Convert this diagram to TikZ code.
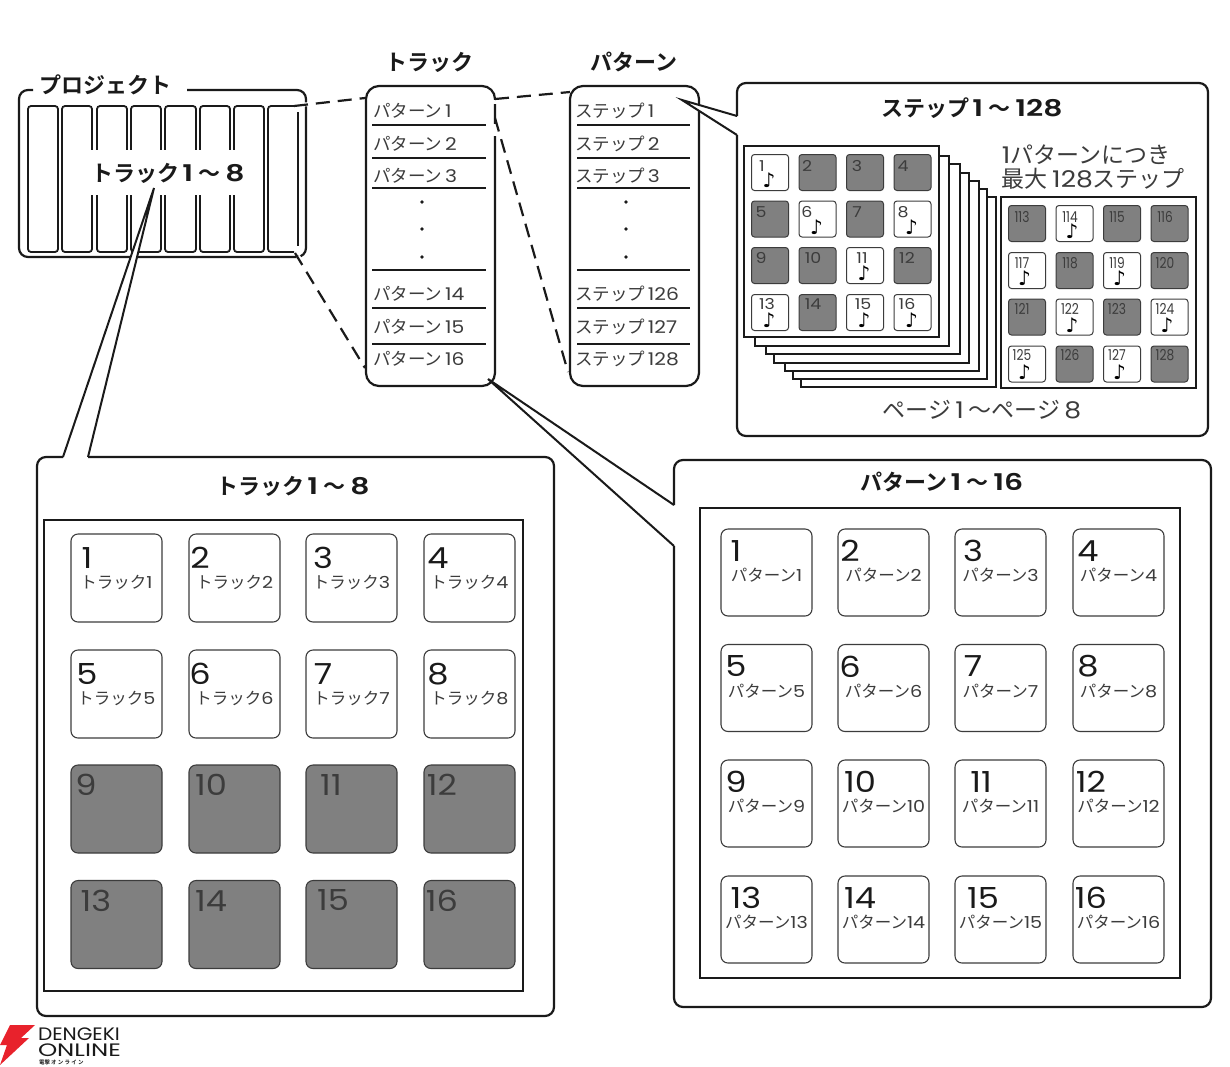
\documentclass[tikz,border=0pt]{standalone}
\usepackage{fontspec}
\newfontfamily\jp{Noto Sans CJK JP}
\newfontfamily\jpb{Noto Sans CJK JP Bold}
\newfontfamily\dg[FakeStretch=1.16]{Poppins}
\newfontfamily\dgb[FakeStretch=1.3]{Poppins SemiBold}
\newfontfamily\logofont{Poppins}
\newfontfamily\sym{DejaVu Sans}
\definecolor{padgray}{HTML}{808080}
\definecolor{ink}{HTML}{1A1A1A}
\definecolor{soft}{HTML}{3C3C3C}
\definecolor{boltred}{HTML}{E8222C}
\tikzset{
  x=1pt,y=-1pt,
  every node/.style={inner sep=0pt,outer sep=0pt,text=ink},
  frame/.style={draw=ink,line width=2.2pt,rounded corners=9pt},
  thinrule/.style={draw=ink,line width=1.3pt},
  heavyrect/.style={draw=ink,line width=2.4pt,fill=white},
  dashline/.style={draw=ink,line width=2.2pt,dash pattern=on 14pt off 8pt},
  wedgeline/.style={draw=ink,line width=2pt},
  bigpad/.style={draw=soft,line width=1.1pt,rounded corners=7pt,minimum width=91pt,minimum height=88pt},
  stepcell/.style={draw=soft,line width=1pt,rounded corners=3pt,minimum width=37pt,minimum height=36pt},
  head/.style={font=\jpb\fontsize{22}{24}\selectfont},
  listtext/.style={anchor=west,text=soft,font=\jp\fontsize{17.5}{20}\selectfont},
  padnum/.style={text=ink,font=\dg\fontsize{29}{30}\selectfont},
  padsub/.style={text=soft,font=\jp\fontsize{16.5}{18}\selectfont},
  cellnum/.style={text=soft,font=\dg\fontsize{15}{16}\selectfont},
  cellnote/.style={text=black,font=\sym\fontsize{20}{20}\selectfont},
  listdot/.style={circle,fill=ink,minimum size=3.6pt},
}
% bold heading: kana, first number, wave dash, last number
\newcommand{\hd}[3]{{\jpb #1}\hspace{3pt}{\dgb\fontsize{23}{24}\selectfont #2}\hspace{5pt}{\jpb 〜}\hspace{5pt}{\dgb\fontsize{23}{24}\selectfont #3}}
\begin{document}
\begin{tikzpicture}
\useasboundingbox (0,0) rectangle (1230,1066);
\fill[white] (0,0) rectangle (1230,1066);

% --- project block with its eight track columns ---
\draw[frame] (187,90) -- (306,90) -- (306,257) -- (19,257) -- (19,90) -- (33,90);
\node[head,anchor=center] (projtitle) at (105,85) {プロジェクト};
\foreach \a/\b [count=\i] in {28/58,62/92,97/127,131/161,165/196,200/230,234/264}
  \draw[draw=ink,line width=1.8pt,rounded corners=3pt] (\a,106) rectangle (\b,252);
\draw[draw=ink,line width=1.8pt,rounded corners=3pt] (294,106) -- (268,106) -- (268,252) -- (294,252);
\draw[draw=ink,line width=1.8pt] (298,112) -- (298,246);
\fill[white] (90,150) rectangle (238,195);
\node[head,anchor=center] (tracksum) at (168,173) {\hd{トラック}{1}{8}};

% --- track list ---
\node[head] (tracktitle) at (429,62) {トラック};
\draw[frame,rounded corners=13pt,fill=white] (366,86) rectangle (495,386);
\foreach \n/\y in {1/111,2/144,3/176,14/294,15/327,16/359}
  \node[listtext] (pat\n) at (373,\y) {パターン\,{\dg\n}};
\foreach \y in {125,158,188,270,308,344}
  \draw[thinrule] (372,\y) -- (486,\y);
\foreach \i/\y in {1/202,2/229,3/257}
  \node[listdot] (trackdot\i) at (422,\y) {};

% --- pattern list ---
\node[head] (pattitle) at (634,62) {パターン};
\draw[frame,rounded corners=13pt,fill=white] (570,86) rectangle (699,386);
\foreach \n/\y in {1/111,2/144,3/176,126/294,127/327,128/359}
  \node[listtext] (stp\n) at (575,\y) {ステップ\,{\dg\n}};
\foreach \y in {125,158,188,270,308,344}
  \draw[thinrule] (577,\y) -- (690,\y);
\foreach \i/\y in {1/202,2/229,3/257}
  \node[listdot] (patdot\i) at (626,\y) {};

% --- dashed zoom guides between the blocks ---
\coordinate (pa) at (294,106);
\coordinate (pb) at (365,98);
\coordinate (pc) at (295,253);
\coordinate (pd) at (365,368);
\coordinate (ta) at (495,99);
\coordinate (tb) at (570,92);
\coordinate (tc) at (495,118);
\coordinate (td) at (568,372);
\draw[white,line width=4pt] (299,105) -- (310,104);
\draw[white,line width=4pt] (298,256) -- (304,266);
\draw[white,line width=4pt] (495,100) -- (495,104);
\draw[white,line width=4pt] (495,124) -- (495,136);
\draw[dashline] (pa) -- (pb);
\draw[dashline] (pc) -- (pd);
\draw[dashline] (ta) -- (tb);
\draw[dashline] (tc) -- (td);

% --- step detail panel ---
\coordinate (stip) at (682,100);
\coordinate (su) at (737,116);
\coordinate (sl) at (737,135);
\fill[white] (stip) -- (su) -- (sl) -- cycle;
\draw[wedgeline] (su) -- (stip) -- (sl);
\draw[frame] (737,116) -- (737,83) -- (1208,83) -- (1208,436) -- (737,436) -- (737,135);
\node[head] (steptitle) at (972,108) {\hd{ステップ}{1}{128}};
\foreach \l/\t/\r/\b in {801/197/996/387,793/189/987/379,785/181/979/371,774/173/969/363,766/164/960/354,755/156/949/346,744/146/939/337}
  \draw[heavyrect] (\l,\t) rectangle (\r,\b);
\draw[heavyrect] (1001,197) rectangle (1196,388);
\node[text=soft,font=\jp\fontsize{23}{25}\selectfont] (onepat) at (1086,155) {{\dg 1}パターンにつき};
\node[text=soft,font=\jp\fontsize{23}{25}\selectfont] (maxstep) at (1093,179) {最大 {\dg 128}ステップ};
\node[text=soft,font=\jp\fontsize{23}{25}\selectfont] (pagecap) at (982,410) {ページ\,{\dg 1} 〜ページ\,{\dg 8}};

% n / cell x / cell y / number x / number y / lit
\foreach \n/\x/\y/\nx/\ny/\lit in {
  1/770/172.5/762/166/1,2/817.5/172.5/807/166/0,3/865/172.5/857/166/0,4/912.5/172.5/903/166/0,
  5/770/219/761/212/0,6/817.5/219/807/212/1,7/865/219/857/212/0,8/912.5/219/903/212/1,
  9/770/265.5/761/258/0,10/817.5/265.5/813/258/0,11/865/265.5/862/258/1,12/912.5/265.5/907/258/0,
  13/770/312.5/767/304/1,14/817.5/312.5/813/304/0,15/865/312.5/863/304/1,16/912.5/312.5/907/304/1}{
  \ifnum\lit=1
    \node[stepcell,fill=white] (cell\n) at (\x,\y) {};
    \node[cellnote] (note\n) at (\x-1,\y+8) {♪};
  \else
    \node[stepcell,fill=padgray] (cell\n) at (\x,\y) {};
  \fi
  \node[cellnum] (celln\n) at (\nx,\ny) {\n};
}
\foreach \n/\x/\y/\nx/\ny/\lit in {
  113/1027/223.5/1022/217/0,114/1074.5/223.5/1070/217/1,115/1122/223.5/1117/217/0,116/1169.5/223.5/1165/217/0,
  117/1027/270.5/1022/263/1,118/1074.5/270.5/1070/263/0,119/1122/270.5/1117/263/1,120/1169.5/270.5/1165/263/0,
  121/1027/317/1022/309/0,122/1074.5/317/1070/309/1,123/1122/317/1117/309/0,124/1169.5/317/1165/309/1,
  125/1027/364/1022/355/1,126/1074.5/364/1070/355/0,127/1122/364/1117/355/1,128/1169.5/364/1165/355/0}{
  \ifnum\lit=1
    \node[stepcell,fill=white] (cell\n) at (\x,\y) {};
    \node[cellnote] (note\n) at (\x-2.5,\y+8) {♪};
  \else
    \node[stepcell,fill=padgray] (cell\n) at (\x,\y) {};
  \fi
  \node[cellnum,xscale=.7] (celln\n) at (\nx,\ny) {\n};
}

% --- track pad panel ---
\coordinate (ltip) at (154,188);
\coordinate (la) at (63,457);
\coordinate (lb) at (88,457);
\fill[white] (ltip) -- (la) -- (lb) -- cycle;
\draw[wedgeline] (la) -- (ltip) -- (lb);
\draw[frame] (88,457) -- (554,457) -- (554,1016) -- (37,1016) -- (37,457) -- (63,457);
\node[head] (trktitle) at (293,486) {\hd{トラック}{1}{8}};
\draw[heavyrect] (44,520) rectangle (523,991);
\foreach \n/\x/\y/\nx in {
  1/116.5/578/87,2/234.5/578/200,3/351.5/578/323,4/469.5/578/438,
  5/116.5/694/87,6/234.5/694/200,7/351.5/694/323,8/469.5/694/438}{
  \node[bigpad,fill=white] (tp\n) at (\x,\y) {};
  \node[padnum] (tpn\n) at (\nx,\y-20) {\n};
  \node[padsub] (tps\n) at (\x,\y+4) {トラック{\dg\n}};
}
\foreach \n/\x/\y/\nx in {
  9/116.5/809/86,10/234.5/809/211,11/351.5/809/331,12/469.5/809/442,
  13/116.5/924.5/96,14/234.5/924.5/211,15/351.5/924.5/333,16/469.5/924.5/442}{
  \node[bigpad,fill=padgray] (tp\n) at (\x,\y) {};
  \node[padnum,text=soft] (tpn\n) at (\nx,\y-24) {\n};
}

% --- pattern pad panel ---
\coordinate (rtip) at (488,379);
\coordinate (ra) at (674,505);
\coordinate (rb) at (674,546);
\fill[white] (rtip) -- (ra) -- (rb) -- cycle;
\draw[wedgeline] (ra) -- (rtip) -- (rb);
\draw[frame] (674,505) -- (674,460) -- (1211,460) -- (1211,1007) -- (674,1007) -- (674,546);
\node[head] (pnltitle) at (942,482) {\hd{パターン}{1}{16}};
\draw[heavyrect] (700,508) rectangle (1180,978);
\foreach \n/\x/\y/\nx in {
  1/766.5/572.5/736,2/883.5/572.5/850,3/1000.5/572.5/973,4/1118.5/572.5/1088,
  5/766.5/688/736,6/883.5/688/850,7/1000.5/688/973,8/1118.5/688/1088,
  9/766.5/803.5/736,10/883.5/803.5/860,11/1000.5/803.5/981,12/1118.5/803.5/1091,
  13/766.5/919.5/746,14/883.5/919.5/860,15/1000.5/919.5/983,16/1118.5/919.5/1091}{
  \node[bigpad,minimum height=87pt,fill=white] (pp\n) at (\x,\y) {};
  \node[padnum] (ppn\n) at (\nx,\y-21.5) {\n};
  \node[padsub] (pps\n) at (\x,\y+3) {パターン{\dg\n}};
}

% --- logo ---
\fill[boltred] (10,1025) -- (35,1025) -- (21,1038) -- (29,1038) -- (0,1065) -- (7,1045) -- (0,1045) -- cycle;
\node[anchor=west,xscale=1.12,font=\logofont\fontsize{18}{18}\selectfont,text=ink] (lg1) at (38,1034) {DENGEKI};
\node[anchor=west,xscale=1.36,font=\logofont\fontsize{18}{18}\selectfont,text=ink] (lg2) at (38,1050) {ONLINE};
\node[anchor=west,font=\jpb\fontsize{5.5}{6}\selectfont,text=ink] (lg3) at (39,1062.5) {電撃 オ ン ラ イ ン};
\end{tikzpicture}
\end{document}
